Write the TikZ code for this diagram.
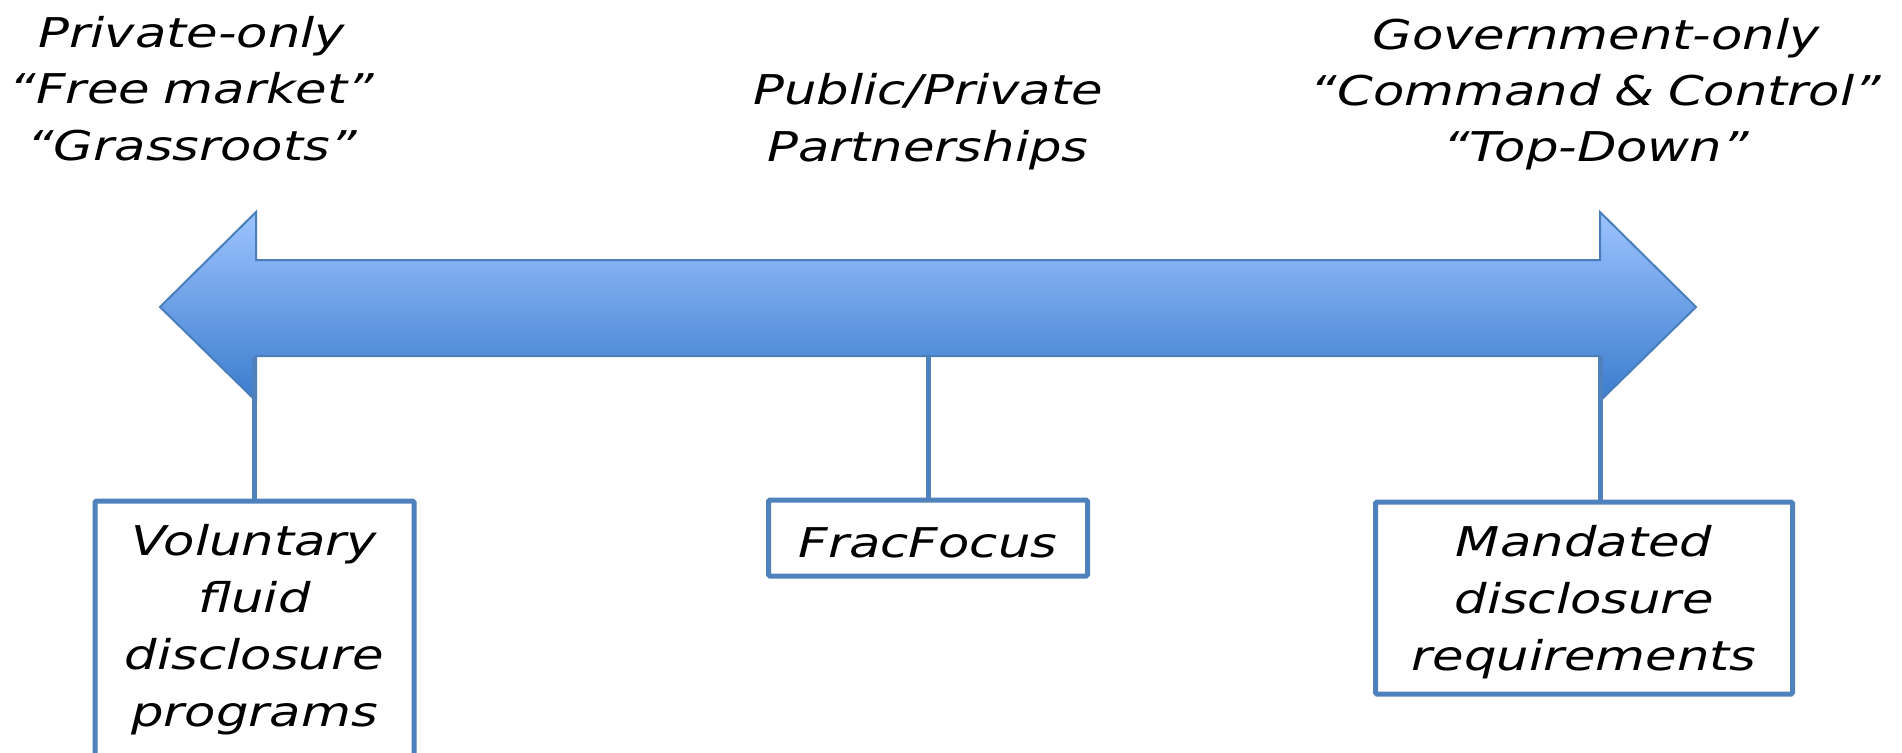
\documentclass[tikz,border=0pt]{standalone}
\usepackage{fontspec}
\newfontfamily\vf[FakeStretch=1.25]{DejaVu Sans}
\definecolor{bord}{RGB}{79,129,189}
\definecolor{arrtop}{RGB}{157,195,255}
\definecolor{arrbot}{RGB}{58,124,205}
\definecolor{arrline}{RGB}{74,126,187}
\begin{document}
\begin{tikzpicture}[x=1pt,y=-1pt,
  lbl/.style={font=\vf\itshape\fontsize{41}{56}\selectfont, align=center, text width=700pt, anchor=base, inner sep=0pt},
  boxtxt/.style={font=\vf\itshape\fontsize{41}{57}\selectfont, align=center, text width=400pt, anchor=base, inner sep=0pt},
  boxed/.style={draw=bord, line width=5pt, fill=white, rounded corners=1.5pt, font=\vf\itshape\fontsize{41}{57}\selectfont, align=center, inner sep=0pt},
  conn/.style={draw=bord, line width=5pt}]
\clip (0,0) rectangle (1902,752);
\fill[white] (0,0) rectangle (1902,752);
% the double arrow
\shade[top color=arrtop, bottom color=arrbot, draw=arrline, line width=2pt, line join=miter]
  (160,307) -- (256,212) -- (256,260) -- (1600,260) -- (1600,212) -- (1696,307)
  -- (1600,401) -- (1600,356) -- (256,356) -- (256,401) -- cycle;
% top labels
\node[lbl] (priv) at (192,48) {Private-only\\“Free market”\\“Grassroots”};
\node[lbl, font=\vf\itshape\fontsize{41}{57}\selectfont] (ppp) at (928,104) {Public/Private\\Partnerships};
\node[lbl] (gov) at (1596,49) {Government-only\\“Command \& Control”\\“Top-Down”};
% boxes
\node[boxed, minimum width=319pt, minimum height=320pt, anchor=north] (lbox) at (254.5,498.5) {};
\node[boxtxt] (ltext) at (254.5,555) {Voluntary\\fluid\\disclosure\\programs};
\node[boxed, minimum width=319pt, minimum height=76pt, text height=38pt, text depth=0pt] (mbox) at (928,538) {FracFocus};
\node[boxed, minimum width=417pt, minimum height=192pt, text width=400pt, text height=41pt, text depth=124pt] (rbox) at (1584,598) {Mandated\\disclosure\\requirements};
% connectors
\coordinate (lt) at (254.5,357);
\coordinate (mt) at (928,357);
\coordinate (rt) at (1600,357);
\draw[conn] (lt) -- (lbox.north);
\draw[conn] (mt) -- (mbox.north);
\draw[conn] (rt) -- (rt |- rbox.north);
\end{tikzpicture}
\end{document}
